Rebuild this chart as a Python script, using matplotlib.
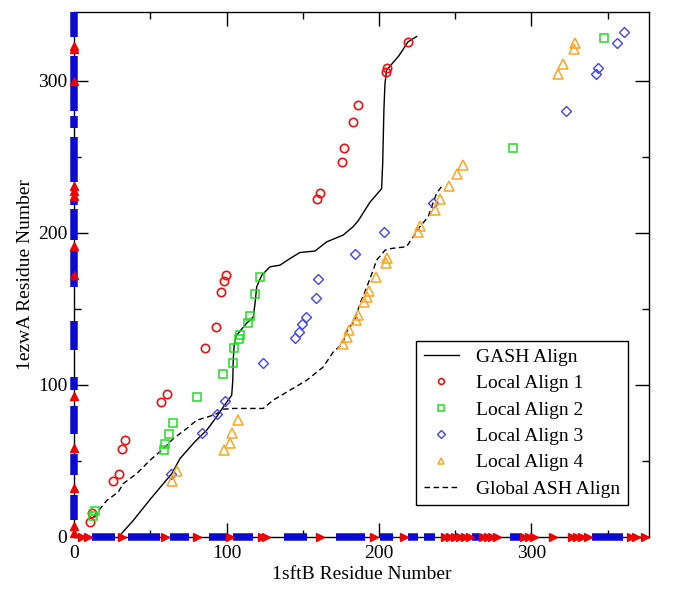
import matplotlib
matplotlib.use("Agg")
import matplotlib.pyplot as plt
import numpy as np
from matplotlib.ticker import MultipleLocator

# GASH alignment path (solid line)
gash_x = [29, 38.8, 50, 64, 69.4, 79, 86.9, 93.4, 97.8, 103.3, 104, 104.3, 105, 106.6,
          113, 117.5, 118.6, 119.7, 123, 128.4, 135, 141.5, 148, 158, 165.6, 176.5,
          183, 186.4, 194, 201.7, 202.4, 203.2, 203.9, 205, 212.6, 214.8, 219, 224.7]
gash_y = [0, 11, 25, 41.7, 51.6, 62.5, 70.2, 79, 85.5, 93.2, 103, 116.3, 127, 132.7,
          140.4, 144.7, 153.5, 164.5, 172, 177.6, 178.7, 183, 187, 188, 194, 198.5,
          204, 208, 220, 229, 245.6, 280.7, 298, 307, 315.8, 319, 325.5, 329]

# Global ASH alignment path (dashed line)
global_x = [12.5, 21.3, 28.9, 32, 41, 49.7, 58.4, 65, 73.8, 80.3, 87.9, 93.4, 97.8,
            104.3, 124, 130.6, 141.5, 152.5, 163.4, 170, 176, 178.7, 184.2, 187.5,
            190.7, 196.2, 198.4, 204, 208.3, 218, 222.4, 226.8, 232.3, 234.5, 237.8, 241]
global_y = [13, 24, 29.6, 35, 41.7, 50.5, 58, 64.7, 71.3, 76.8, 79, 81, 84, 84.5,
            84.5, 90, 96.5, 103, 111.8, 121.7, 127, 135, 142.6, 153.5, 161, 175.5,
            182, 188.6, 189.7, 190.8, 197.4, 204, 210.5, 217, 226, 230.3]

# Local alignments
local1_x = [10.3, 11.8, 25.2, 29.3, 31.5, 33.5, 56.7, 60.6, 86, 93, 96.5, 98, 99.5,
            159, 161.4, 176, 176.8, 183, 186.4, 204.3, 205, 219]
local1_y = [10, 16, 36.8, 41.4, 58, 64, 89, 94, 124, 138, 161, 168, 172,
            222, 226, 246.5, 256, 273, 284, 305.5, 308.5, 325.5]

local2_x = [12.5, 13.8, 58.7, 59.7, 62.3, 65, 80.5, 97.8, 104, 104.6, 108, 108.7,
            114, 115.5, 118.8, 121.9, 288, 347.6]
local2_y = [13.6, 16.9, 57.2, 61, 68, 74.8, 92, 107, 114.7, 124, 130, 132.7,
            141, 145, 160, 170.6, 256, 328]

local3_x = [63.5, 84, 93.4, 98.7, 123.8, 145, 147.2, 149.6, 151.8, 158.8, 159.7,
            184, 203.4, 235.6, 323, 342.3, 343.8, 356.3, 360.7]
local3_y = [41.4, 68.2, 80.7, 89.5, 114.3, 130.5, 135, 140, 144.7, 157, 169.7,
            186, 200.3, 219.5, 280, 304.4, 308, 324.8, 331.8]

local4_x = [64, 67.6, 98, 102.2, 103.5, 107.6, 176.1, 179, 180, 184.8, 186, 190,
            191.9, 193.4, 197.7, 204.3, 205, 225.5, 226.8, 236.9, 239.8, 245.9,
            251.3, 255, 317.6, 320.7, 327.7, 328.4]
local4_y = [37.1, 43.7, 57, 62.1, 68.4, 77.2, 126.6, 131.6, 136, 142.6, 145.9, 154.4,
            157.9, 161.8, 171, 180.3, 183.5, 200.5, 204.6, 215, 222, 231,
            238.8, 244.5, 304.6, 311, 320.8, 325]

# Secondary structure along each sequence (residue ranges)
helix_x = [(11.4, 26.7), (35.4, 56.3), (63, 75), (88.4, 100), (104.3, 117),
           (137.6, 153), (172, 190.7), (200.6, 209.3), (219, 225.7), (229.5, 236.7),
           (260.8, 265.7), (286, 293.5), (339.5, 360)]
strand_x = [(2.5, 11.8), (29, 33), (57, 63), (78, 83.5), (100, 104), (120.6, 128.4),
            (158.6, 164.5), (194, 200.6), (213.7, 219), (241, 262), (265.7, 280),
            (292.5, 304), (312, 317), (324, 339.5), (362.7, 371), (372, 377.8)]
helix_y = [(11, 27.4), (40.6, 54.5), (68, 86), (96.5, 105), (122.8, 142),
           (164.5, 188.6), (195, 215.6), (218, 221), (233.5, 263), (269, 277),
           (280, 316), (329, 345)]
strand_y = [(0, 10), (29.6, 36), (56, 62), (90, 95.4), (170, 175.5), (188.6, 195),
            (221.5, 233.5), (297, 302), (318, 325)]


def strand_marks(start, end):
    # triangles packed along the strand range
    lo, hi = start + 2.5, end - 2.5
    if hi <= lo:
        return np.array([(start + end) / 2.0])
    n = int(round((hi - lo) / 3.5)) + 1
    return np.linspace(lo, hi, n)


plt.rcParams['font.family'] = ['Liberation Serif', 'DejaVu Serif']

fig = plt.figure(figsize=(6.85, 6.10), dpi=100)
ax = fig.add_axes([0.1085, 0.1197, 0.8385, 0.8603])

ax.plot(gash_x, gash_y, color='black', lw=1.0, label='GASH Align', zorder=3)
ax.plot(local1_x, local1_y, 'o', ms=6, mfc='none', mec='#ee1111', mew=1.2,
        label='Local Align 1', zorder=4)
ax.plot(local2_x, local2_y, 's', ms=6, mfc='none', mec='#22dd22', mew=1.1,
        label='Local Align 2', zorder=4)
ax.plot(local3_x, local3_y, 'D', ms=5.5, mfc='none', mec='#4444ee', mew=1.0,
        label='Local Align 3', zorder=4)
ax.plot(local4_x, local4_y, '^', ms=7, mfc='none', mec='#ffa520', mew=1.1,
        label='Local Align 4', zorder=4)
ax.plot(global_x, global_y, color='black', lw=1.0, ls=(0, (4, 2.5)),
        label='Global ASH Align', zorder=3)

# helices as thick blue bars on the axes
for s, e in helix_x:
    ax.plot([s, e], [0, 0], color='#0a0ad2', lw=5.4, solid_capstyle='butt',
            clip_on=False, zorder=5)
for s, e in helix_y:
    ax.plot([0, 0], [s, e], color='#0a0ad2', lw=5.4, solid_capstyle='butt',
            clip_on=False, zorder=5)

# strands as red arrows on the axes
for s, e in strand_x:
    pos = strand_marks(s, e)
    ax.plot(pos, np.zeros_like(pos), '>', ms=6, color='#ee0000', mec='#ee0000',
            clip_on=False, zorder=6)
for s, e in strand_y:
    pos = strand_marks(s, e)
    ax.plot(np.zeros_like(pos), pos, '^', ms=6, color='#ee0000', mec='#ee0000',
            clip_on=False, zorder=6)

ax.set_xlim(0, 377)
ax.set_ylim(0, 345)
ax.xaxis.set_major_locator(MultipleLocator(100))
ax.xaxis.set_minor_locator(MultipleLocator(50))
ax.yaxis.set_major_locator(MultipleLocator(100))
ax.yaxis.set_minor_locator(MultipleLocator(50))
ax.tick_params(which='both', direction='in', top=True, right=True,
               labelsize=14, width=1.0)
ax.tick_params(which='major', length=10)
ax.tick_params(which='minor', length=5)
ax.tick_params(axis='x', pad=6)
ax.tick_params(axis='y', pad=5)
for sp in ax.spines.values():
    sp.set_linewidth(1.0)

ax.set_xlabel('1sftB Residue Number', fontsize=14, labelpad=3)
ax.set_ylabel('1ezwA Residue Number', fontsize=14, labelpad=3)

leg = ax.legend(loc='lower right', bbox_to_anchor=(0.964, 0.06), fontsize=14,
                frameon=True, fancybox=False, framealpha=1, edgecolor='black',
                handlelength=1.8, handletextpad=0.9, labelspacing=0.45,
                borderpad=0.4, borderaxespad=0, markerscale=0.7)
leg.get_frame().set_linewidth(1.0)

plt.savefig('out.png', dpi=100)
